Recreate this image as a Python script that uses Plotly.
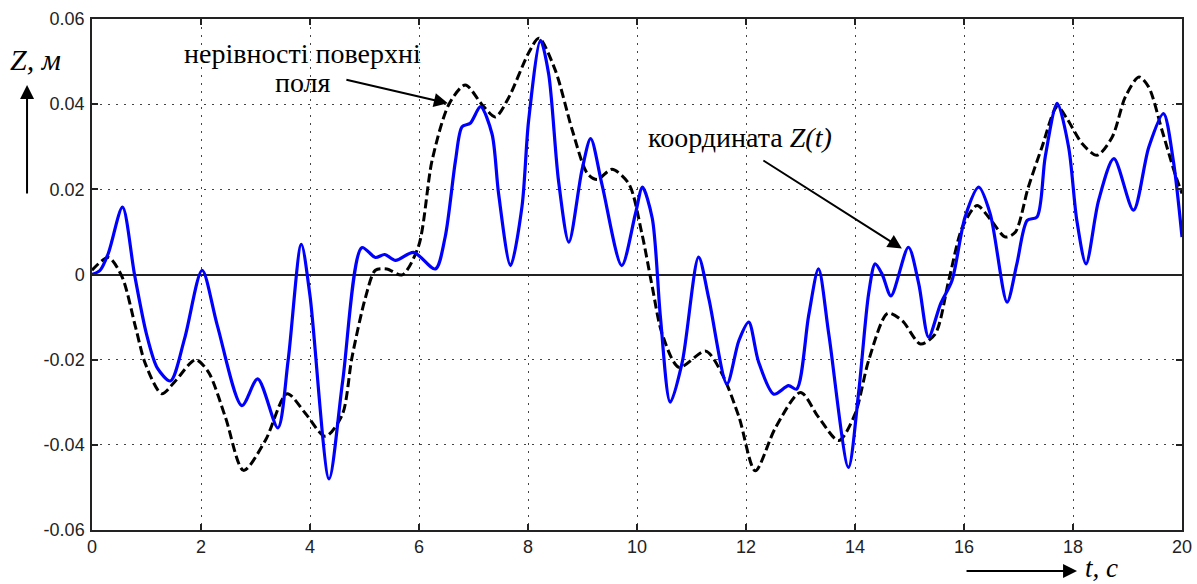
import plotly.graph_objects as go

# Z(t) coordinate (blue)
t_z = [0, 0.15, 0.3, 0.56, 0.78, 1.0, 1.2, 1.44, 1.7, 2.02, 2.3, 2.75, 3.04, 3.41, 3.6, 3.84, 4.0,
       4.35, 4.6, 4.95, 5.2, 5.37, 5.57, 5.9, 6.3, 6.48, 6.67, 6.79, 6.94, 7.13, 7.34, 7.46, 7.68,
       7.89, 8.01, 8.23, 8.38, 8.56, 8.75, 8.99, 9.15, 9.36, 9.72, 9.97, 10.1, 10.28, 10.43, 10.61,
       10.83, 11.13, 11.32, 11.65, 11.87, 12.05, 12.23, 12.51, 12.78, 12.93, 13.15, 13.33, 13.52,
       13.88, 14.07, 14.25, 14.37, 14.5, 14.66, 14.98, 15.17, 15.35, 15.57, 15.78, 16.02, 16.27,
       16.48, 16.79, 16.97, 17.16, 17.34, 17.49, 17.71, 17.92, 18.07, 18.24, 18.47, 18.75, 19.11,
       19.39, 19.66, 19.84, 20.0]
z_vals = [0.0, 0.001, 0.005, 0.0158, 0.0, -0.014, -0.022, -0.025, -0.015, 0.001, -0.012, -0.0308,
          -0.0245, -0.036, -0.02, 0.0071, -0.005, -0.048, -0.025, 0.0063, 0.004, 0.0047, 0.0033,
          0.0052, 0.0013, 0.0088, 0.0268, 0.0347, 0.0355, 0.0394, 0.033, 0.019, 0.0021, 0.016, 0.036,
          0.055, 0.047, 0.022, 0.0076, 0.0245, 0.0319, 0.021, 0.0021, 0.0142, 0.0205, 0.0132, -0.010,
          -0.030, -0.0206, 0.0041, -0.0058, -0.0257, -0.0155, -0.0112, -0.0205, -0.0281, -0.0261,
          -0.0269, -0.0096, 0.0013, -0.0141, -0.0453, -0.0273, -0.0045, 0.0025, 0.0, -0.005, 0.0064,
          -0.0022, -0.0147, -0.0069, -0.0014, 0.0135, 0.0205, 0.0143, -0.0065, 0.0025, 0.0127, 0.0135,
          0.0276, 0.0402, 0.0299, 0.0127, 0.0025, 0.0174, 0.0272, 0.0151, 0.0299, 0.0378, 0.0268,
          0.0088]

# field surface irregularities (black dashed)
t_s = [0, 0.3, 0.55, 0.8, 0.98, 1.28, 1.53, 1.9, 2.14, 2.45, 2.78, 3.18, 3.58, 3.91, 4.28, 4.59,
       4.77, 5.02, 5.2, 5.41, 5.69, 5.99, 6.24, 6.55, 6.85, 7.15, 7.4, 7.64, 8.01, 8.2, 8.5, 8.81,
       9.09, 9.27, 9.54, 9.85, 10.09, 10.28, 10.46, 10.77, 11.26, 11.56, 11.87, 12.17, 12.54, 13.0,
       13.33, 13.7, 14.0, 14.25, 14.6, 14.87, 15.2, 15.47, 15.72, 15.97, 16.24, 16.48, 16.76, 16.94,
       17.18, 17.43, 17.71, 17.89, 18.17, 18.44, 18.72, 18.96, 19.21, 19.39, 19.63, 19.87, 20.0]
s_vals = [0.001, 0.004, -0.0005, -0.0124, -0.021, -0.028, -0.025, -0.020, -0.023, -0.0336, -0.046,
          -0.039, -0.028, -0.0325, -0.038, -0.033, -0.0195, -0.0053, 0.001, 0.0013, -0.0001, 0.0066,
          0.0268, 0.040, 0.0445, 0.040, 0.037, 0.0414, 0.052, 0.0555, 0.048, 0.034, 0.0237, 0.0223,
          0.0247, 0.0213, 0.0096, -0.0029, -0.0139, -0.0218, -0.018, -0.0233, -0.0334, -0.0461,
          -0.036, -0.0277, -0.0335, -0.039, -0.0328, -0.0202, -0.0091, -0.0109, -0.0163, -0.014,
          -0.0014, 0.0111, 0.0162, 0.013, 0.0088, 0.0099, 0.0205, 0.0299, 0.0394, 0.0366, 0.0307,
          0.028, 0.0323, 0.0417, 0.0464, 0.044, 0.034, 0.0237, 0.019]

x_ticks = [0, 2, 4, 6, 8, 10, 12, 14, 16, 18, 20]
y_ticks = [-0.06, -0.04, -0.02, 0, 0.02, 0.04, 0.06]
y_tick_text = ["-0.06", "-0.04", "-0.02", "0", "0.02", "0.04", "0.06"]

fig = go.Figure()
fig.add_trace(go.Scatter(x=t_s, y=s_vals, mode="lines",
                         line=dict(color="black", width=3, dash="9px,4px", shape="spline", smoothing=0.8),
                         showlegend=False))
fig.add_trace(go.Scatter(x=t_z, y=z_vals, mode="lines",
                         line=dict(color="#0000FF", width=3.2, shape="spline", smoothing=0.8),
                         showlegend=False))

axis_common = dict(showline=True, linecolor="#222", linewidth=1.5, mirror="ticks",
                   ticks="inside", ticklen=6, tickcolor="#222", tickwidth=1.5,
                   showgrid=True, gridcolor="#444", gridwidth=1, griddash="2px,6px",
                   automargin=False,
                   tickfont=dict(family="Liberation Sans", size=18, color="#222"))

fig.update_xaxes(range=[0, 20], tickvals=x_ticks, zeroline=False, **axis_common)
fig.update_yaxes(range=[-0.06, 0.06], tickvals=y_ticks, ticktext=y_tick_text,
                 zeroline=True, zerolinecolor="#222", zerolinewidth=1.5, ticklabelstandoff=2,
                 **axis_common)

serif = "Liberation Serif, Times New Roman, DejaVu Serif, serif"
annotations = [
    dict(x=3.87, y=0.0518, xref="x", yref="y", text="нерівності поверхні", xanchor="center",
         yanchor="middle", showarrow=False, font=dict(family=serif, size=28, color="black")),
    dict(x=3.87, y=0.0450, xref="x", yref="y", text="поля", xanchor="center",
         yanchor="middle", showarrow=False, font=dict(family=serif, size=28, color="black")),
    dict(x=6.53, y=0.0402, xref="x", yref="y", ax=-103, ay=-24, text="", showarrow=True,
         arrowhead=2, arrowsize=1.4, arrowwidth=2, arrowcolor="black"),
    dict(x=11.89, y=0.0322, xref="x", yref="y", text="координата <i>Z(t)</i>", xanchor="center",
         yanchor="middle", showarrow=False, font=dict(family=serif, size=28, color="black")),
    dict(x=14.86, y=0.0061, xref="x", yref="y", ax=-140, ay=-89, text="", showarrow=True,
         arrowhead=2, arrowsize=1.4, arrowwidth=2, arrowcolor="black"),
    dict(x=-0.0514, y=0.92, xref="paper", yref="paper", text="<i>Z</i><i>, м</i>",
         xanchor="center", yanchor="middle",
         showarrow=False, font=dict(family=serif, size=30, color="black")),
    dict(x=-0.0596, y=0.871, xref="paper", yref="paper", ax=0, ay=110, text="", showarrow=True,
         arrowhead=2, arrowsize=1.4, arrowwidth=2, arrowcolor="black"),
    dict(x=0.9037, y=-0.0802, xref="paper", yref="paper", ax=-112, ay=0, text="", showarrow=True,
         arrowhead=2, arrowsize=1.4, arrowwidth=2, arrowcolor="black"),
    dict(x=0.909, y=-0.0745, xref="paper", yref="paper", xanchor="left", yanchor="middle",
         text="<i>t, c</i>", showarrow=False, font=dict(family=serif, size=27, color="black")),
]

fig.update_layout(width=1197, height=584, margin=dict(l=92, r=15, t=19, b=54, autoexpand=False),
                  plot_bgcolor="white", paper_bgcolor="white", annotations=annotations)

fig.write_html("out.html", config={"displayModeBar": False},
               post_script="document.body.style.margin='0';document.body.style.overflow='hidden';")
